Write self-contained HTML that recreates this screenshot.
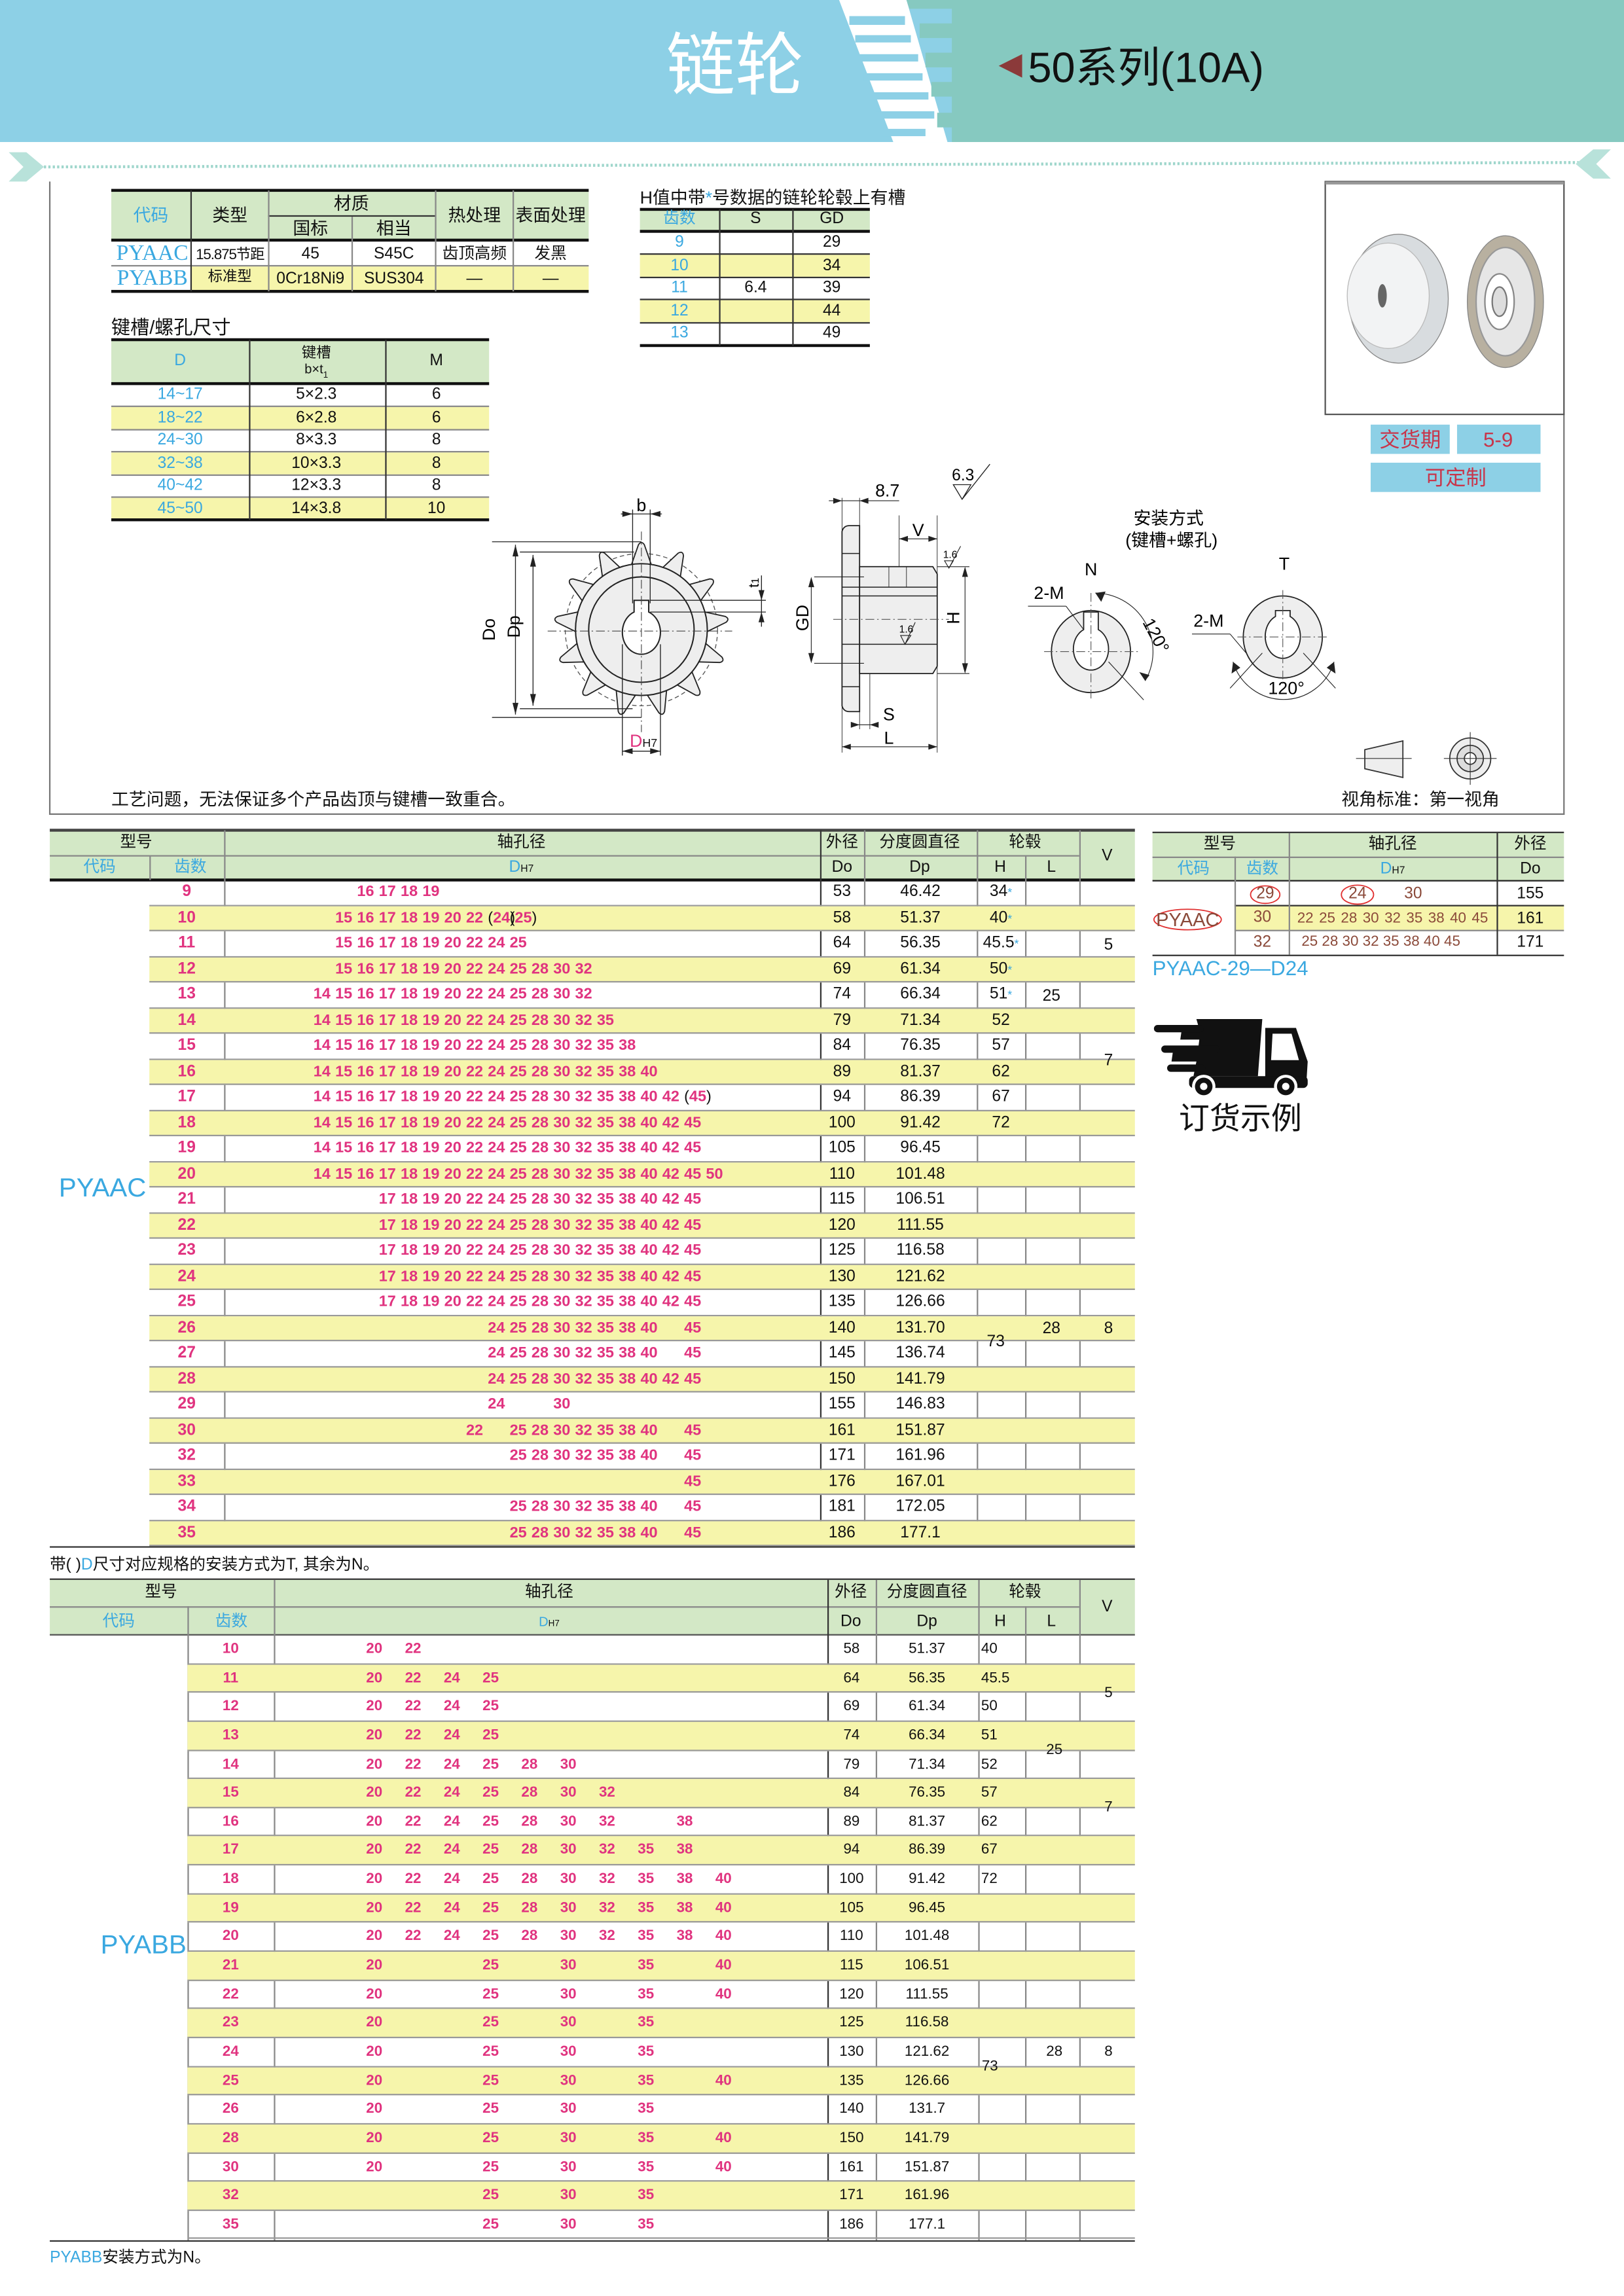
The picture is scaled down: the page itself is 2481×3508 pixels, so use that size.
<!DOCTYPE html>
<html><head><meta charset="utf-8">
<style>
html,body{margin:0;padding:0;width:2481px;height:3508px;overflow:hidden;background:#fff}
#w{position:absolute;left:0;top:0;width:1109px;height:1568px;transform:scale(2.23715);transform-origin:0 0;font-family:"Liberation Sans Narrow","Liberation Sans","Noto Sans CJK SC",sans-serif;font-size:11px;color:#111}
.a{position:absolute}
.c{position:absolute;transform:translate(-50%,-50%);white-space:nowrap;line-height:1}
.bl{color:#3aa8e0}.pk{color:#e0337f}.br{color:#8b4a3a}
.g{background:#d3e8c6}.y{background:#f6f5ab}
.v{position:absolute;width:1px;background:#888}
.h{position:absolute;height:1px;background:#888}
.k{position:absolute;height:2px;background:#111}
.T{position:absolute}
.T .r{position:relative;box-sizing:border-box;border-bottom:1px solid #999}
.T .r:nth-child(even){background:#f6f5ab}
.T s{position:absolute;top:0;text-align:center;text-decoration:none}
.T .n{position:absolute;top:0;color:#e0337f;font-weight:bold;white-space:nowrap}
.T .n b{display:inline-block}
.T .n u{text-decoration:none;color:#111;font-weight:normal}
.T i{font-style:normal;color:#3aa8e0;font-size:8px;vertical-align:top}
#t1{left:102px;top:601px;width:673px}
#t1 .r{height:17.5px;line-height:17.5px}
#t1 .z{left:0;width:51px;color:#e0337f;font-weight:bold}
#t1 .n{left:112px;font-size:10.5px}
#t1 .n b{width:14.9px}
#t1 .do{left:458px;width:30px}#t1 .dp{left:488px;width:77px}#t1 .hh{left:565px;width:33px}
#t2{left:128px;top:1117px;width:647px}
#t2 .r{height:19.65px;line-height:19.65px}
#t2 .z{left:0;width:59px;color:#e0337f;font-weight:bold;font-size:10px}
#t2 .n{left:122px;font-size:10px;font-family:"Liberation Sans",sans-serif}
#t2 .n b{width:26.5px}
#t2 s{font-size:10px;font-family:"Liberation Sans",sans-serif}
#t2 .do{left:437px;width:33px}#t2 .dp{left:470px;width:70px}#t2 .hh{left:540px;width:32px;text-align:left;padding-left:2px}
</style></head><body><div id="w">

<!-- header -->
<svg class="a" style="left:0;top:0" width="1109" height="100" viewBox="0 0 1109 100">
<rect x="0" y="0" width="1109" height="97" fill="#8dd0e6"/>
<polygon points="573,0 619,0 647,97 610,97" fill="#fff"/>
<polygon points="619,0 1109,0 1109,97 650,97 650,87 640,87 640,77 650,77 650,66 636,66 636,56 650,56 650,46 632,46 632,36 650,36 650,26 628,26 628,16 650,16 650,6 621,6" fill="#86c9c0"/>
<g fill="#8dd0e6"><rect x="580" y="11" width="38" height="6"/><rect x="584" y="24" width="38" height="5"/><rect x="587" y="37" width="40" height="5"/><rect x="590" y="50" width="40" height="5"/><rect x="594" y="63" width="40" height="5"/><rect x="598" y="76" width="40" height="5"/><rect x="602" y="88" width="30" height="5"/></g>
<polygon points="698,37 682,45 698,53" fill="#8b3a3a"/>
<text x="502" y="61" fill="#fff" font-size="47" text-anchor="middle" font-family="Noto Sans CJK SC,sans-serif">链轮</text>
<text x="702" y="56" fill="#111" font-size="29" font-family="Liberation Sans Narrow,Liberation Sans,Noto Sans CJK SC,sans-serif">50系列(10A)</text>
</svg>

<!-- dotted line & frame -->
<svg class="a" style="left:0;top:0" width="1109" height="1568" viewBox="0 0 1109 1568">
<line x1="30" y1="114" x2="1078" y2="111" stroke="#9fd6cc" stroke-width="2" stroke-dasharray="1.5 1.5"/>
<polygon points="6,104 18,104 30,114 18,124 6,124 16,114" fill="#b8e2da"/>
<polygon points="1100,102 1088,102 1076,112 1088,122 1100,122 1090,112" fill="#b8e2da"/>
<polyline points="34,124 34,556 1068,556 1068,283" fill="none" stroke="#777" stroke-width="1"/>
<rect x="905" y="124" width="163" height="159" fill="none" stroke="#555" stroke-width="1"/>
<line x1="905" y1="125" x2="1068" y2="125" stroke="#999" stroke-width="2"/>
</svg>

<!-- material table -->
<div class="a g" style="left:76px;top:130px;width:326px;height:34px"></div>
<div class="a y" style="left:130px;top:182px;width:272px;height:17px"></div>
<div class="k" style="left:76px;top:129px;width:326px"></div>
<div class="k" style="left:76px;top:163px;width:326px"></div>
<div class="k" style="left:76px;top:198px;width:326px"></div>
<div class="h" style="left:76px;top:181px;width:326px"></div>
<div class="h" style="left:183px;top:147px;width:114px;background:#333"></div>
<div class="v" style="left:130px;top:130px;height:69px;background:#333"></div>
<div class="v" style="left:183px;top:130px;height:69px"></div>
<div class="v" style="left:240px;top:148px;height:51px"></div>
<div class="v" style="left:297px;top:130px;height:69px"></div>
<div class="v" style="left:350px;top:130px;height:69px"></div>
<div class="c bl" style="left:103px;top:147px;font-size:12px">代码</div>
<div class="c" style="left:157px;top:147px;font-size:12px">类型</div>
<div class="c" style="left:240px;top:139px;font-size:12px">材质</div>
<div class="c" style="left:212px;top:156px;font-size:12px">国标</div>
<div class="c" style="left:269px;top:156px;font-size:12px">相当</div>
<div class="c" style="left:324px;top:147px;font-size:12px">热处理</div>
<div class="c" style="left:376px;top:147px;font-size:12px">表面处理</div>
<div class="c bl" style="left:104px;top:174px;font-size:15px;font-family:'Liberation Serif',serif">PYAAC</div>
<div class="c bl" style="left:104px;top:191px;font-size:15px;font-family:'Liberation Serif',serif">PYABB</div>
<div class="c" style="left:157px;top:175px;font-size:10px;letter-spacing:-.5px">15.875节距</div>
<div class="c" style="left:157px;top:190px;font-size:10px">标准型</div>
<div class="c" style="left:212px;top:174px">45</div>
<div class="c" style="left:269px;top:174px">S45C</div>
<div class="c" style="left:324px;top:174px">齿顶高频</div>
<div class="c" style="left:376px;top:174px">发黑</div>
<div class="c" style="left:212px;top:191px">0Cr18Ni9</div>
<div class="c" style="left:269px;top:191px">SUS304</div>
<div class="c" style="left:324px;top:191px">—</div>
<div class="c" style="left:376px;top:191px">—</div>

<!-- H table -->
<div class="a" style="left:437px;top:126px;font-size:12px;white-space:nowrap">H值中带<span class="bl">*</span>号数据的链轮轮毂上有槽</div>
<div class="a g" style="left:437px;top:143px;width:157px;height:15px"></div>
<div class="a y" style="left:437px;top:173.6px;width:157px;height:15.6px"></div>
<div class="a y" style="left:437px;top:204.8px;width:157px;height:15.6px"></div>
<div class="k" style="left:437px;top:142px;width:157px"></div>
<div class="k" style="left:437px;top:157px;width:157px"></div>
<div class="k" style="left:437px;top:235px;width:157px"></div>
<div class="h" style="left:437px;top:173px;width:157px;background:#333"></div>
<div class="h" style="left:437px;top:189px;width:157px;background:#333"></div>
<div class="h" style="left:437px;top:204px;width:157px;background:#333"></div>
<div class="h" style="left:437px;top:220px;width:157px;background:#333"></div>
<div class="v" style="left:491px;top:143px;height:93px;background:#333"></div>
<div class="v" style="left:541px;top:143px;height:93px;background:#333"></div>
<div class="c bl" style="left:464px;top:150px">齿数</div>
<div class="c" style="left:516px;top:150px">S</div>
<div class="c" style="left:568px;top:150px">GD</div>
<div class="c bl" style="left:464px;top:166px">9</div><div class="c" style="left:568px;top:166px">29</div>
<div class="c bl" style="left:464px;top:182px">10</div><div class="c" style="left:568px;top:182px">34</div>
<div class="c bl" style="left:464px;top:197px">11</div><div class="c" style="left:516px;top:197px">6.4</div><div class="c" style="left:568px;top:197px">39</div>
<div class="c bl" style="left:464px;top:213px">12</div><div class="c" style="left:568px;top:213px">44</div>
<div class="c bl" style="left:464px;top:228px">13</div><div class="c" style="left:568px;top:228px">49</div>

<!-- keyway table -->
<div class="a" style="left:76px;top:213px;font-size:13px">键槽/螺孔尺寸</div>
<div class="a g" style="left:76px;top:232px;width:258px;height:30px"></div>
<div class="k" style="left:76px;top:231px;width:258px"></div>
<div class="k" style="left:76px;top:261px;width:258px"></div>
<div class="k" style="left:76px;top:354px;width:258px"></div>
<div class="a y" style="left:76px;top:278px;width:258px;height:15px"></div>
<div class="a y" style="left:76px;top:309px;width:258px;height:15px"></div>
<div class="a y" style="left:76px;top:340px;width:258px;height:14px"></div>
<div class="h" style="left:76px;top:277px;width:258px"></div>
<div class="h" style="left:76px;top:293px;width:258px"></div>
<div class="h" style="left:76px;top:308px;width:258px"></div>
<div class="h" style="left:76px;top:324px;width:258px"></div>
<div class="h" style="left:76px;top:339px;width:258px"></div>
<div class="v" style="left:170px;top:232px;height:123px;background:#333"></div>
<div class="v" style="left:263px;top:232px;height:123px;background:#333"></div>
<div class="c bl" style="left:123px;top:247px">D</div>
<div class="c" style="left:216px;top:242px;font-size:10px">键槽</div>
<div class="c" style="left:216px;top:254px;font-size:9px">b×t<sub style="font-size:6px">1</sub></div>
<div class="c" style="left:298px;top:247px">M</div>
<div class="c bl" style="left:123px;top:270px">14~17</div><div class="c" style="left:216px;top:270px">5×2.3</div><div class="c" style="left:298px;top:270px">6</div>
<div class="c bl" style="left:123px;top:286px">18~22</div><div class="c" style="left:216px;top:286px">6×2.8</div><div class="c" style="left:298px;top:286px">6</div>
<div class="c bl" style="left:123px;top:301px">24~30</div><div class="c" style="left:216px;top:301px">8×3.3</div><div class="c" style="left:298px;top:301px">8</div>
<div class="c bl" style="left:123px;top:317px">32~38</div><div class="c" style="left:216px;top:317px">10×3.3</div><div class="c" style="left:298px;top:317px">8</div>
<div class="c bl" style="left:123px;top:332px">40~42</div><div class="c" style="left:216px;top:332px">12×3.3</div><div class="c" style="left:298px;top:332px">8</div>
<div class="c bl" style="left:123px;top:348px">45~50</div><div class="c" style="left:216px;top:348px">14×3.8</div><div class="c" style="left:298px;top:348px">10</div>

<!-- delivery boxes -->
<div class="a" style="left:936px;top:290px;width:54px;height:20px;background:#8dd0e6"></div>
<div class="a" style="left:995px;top:290px;width:57px;height:20px;background:#8dd0e6"></div>
<div class="a" style="left:936px;top:316px;width:116px;height:20px;background:#8dd0e6"></div>
<div class="c" style="left:963px;top:300px;font-size:14px;color:#c8354a">交货期</div>
<div class="c" style="left:1023px;top:300px;font-size:14px;color:#c8354a">5-9</div>
<div class="c" style="left:994px;top:326px;font-size:14px;color:#c8354a">可定制</div>

<!-- drawings -->
<svg class="a" style="left:0;top:0" width="1109" height="1568" viewBox="0 0 1109 1568" font-family="Liberation Sans Narrow,Liberation Sans,Noto Sans CJK SC,sans-serif">
<defs><path id="th" d="M429,392 L436,372 Q438,369 440,372 L447,392 Z" fill="#eee" stroke="#222" stroke-width=".8"/></defs>
<!-- photo sprockets -->
<g>
<g fill="#cfd3d6" stroke="#888" stroke-width=".6">
<ellipse cx="955" cy="204" rx="34" ry="44" fill="#d8dcdf"/>
<ellipse cx="1028" cy="206" rx="26" ry="45" fill="#b8b0a0"/>
</g>
<ellipse cx="948" cy="202" rx="28" ry="36" fill="#f2f3f4" stroke="#bbb" stroke-width=".6"/>
<ellipse cx="944" cy="202" rx="3" ry="8" fill="#666"/>
<ellipse cx="1028" cy="206" rx="20" ry="37" fill="#e6e6e6" stroke="#999"/>
<ellipse cx="1024" cy="206" rx="10" ry="19" fill="#fff" stroke="#888"/>
<ellipse cx="1024" cy="206" rx="5" ry="10" fill="#ddd" stroke="#777"/>
</g>
<!-- front view -->
<circle cx="438" cy="430" r="52" fill="none" stroke="#555" stroke-width=".6" stroke-dasharray="3 2"/>
<g>
<use href="#th"/><use href="#th" transform="rotate(27.69 438 430)"/><use href="#th" transform="rotate(55.38 438 430)"/><use href="#th" transform="rotate(83.08 438 430)"/><use href="#th" transform="rotate(110.77 438 430)"/><use href="#th" transform="rotate(138.46 438 430)"/><use href="#th" transform="rotate(166.15 438 430)"/><use href="#th" transform="rotate(193.85 438 430)"/><use href="#th" transform="rotate(221.54 438 430)"/><use href="#th" transform="rotate(249.23 438 430)"/><use href="#th" transform="rotate(276.92 438 430)"/><use href="#th" transform="rotate(304.62 438 430)"/><use href="#th" transform="rotate(332.31 438 430)"/>
</g>
<circle cx="438" cy="430" r="45" fill="#eee" stroke="#222" stroke-width=".9"/>
<circle cx="438" cy="430" r="36" fill="#eee" stroke="#222" stroke-width=".9"/>
<path d="M433,418 L433,410 L443,410 L443,418 A13,15 0 1 1 433,418 Z" fill="#fff" stroke="#222" stroke-width=".9"/>
<g stroke="#444" stroke-width=".5" stroke-dasharray="6 2 1 2"><line x1="374" y1="431" x2="500" y2="431"/><line x1="438" y1="363" x2="438" y2="500"/></g>
<g stroke="#222" stroke-width=".6" fill="none">
<line x1="336" y1="370" x2="438" y2="370"/><line x1="336" y1="490" x2="438" y2="490"/>
<line x1="355" y1="377" x2="433" y2="377"/><line x1="355" y1="484" x2="432" y2="484"/>
<line x1="352" y1="372" x2="352" y2="488"/><line x1="364" y1="379" x2="364" y2="482"/>
<line x1="432" y1="348" x2="432" y2="412"/><line x1="444" y1="348" x2="444" y2="412"/>
<line x1="424" y1="351" x2="452" y2="351"/>
<line x1="444" y1="410" x2="523" y2="410"/><line x1="444" y1="418" x2="523" y2="418"/>
<line x1="520" y1="393" x2="520" y2="428"/>
<line x1="425" y1="440" x2="425" y2="516"/><line x1="451" y1="440" x2="451" y2="516"/>
<line x1="425" y1="513" x2="451" y2="513"/>
</g>
<g fill="#222">
<polygon points="352,372 350,380 354,380"/><polygon points="352,488 350,480 354,480"/>
<polygon points="364,379 362,387 366,387"/><polygon points="364,482 362,474 366,474"/>
<polygon points="432,351 425,349 425,353"/><polygon points="444,351 451,349 451,353"/>
<polygon points="425,513 432,511 432,515"/><polygon points="451,513 444,511 444,515"/>
<polygon points="520,410 518,403 522,403"/><polygon points="520,418 518,425 522,425"/>
</g>
<text x="438" y="349" font-size="12" text-anchor="middle">b</text>
<text transform="translate(338,430) rotate(-90)" font-size="12" text-anchor="middle">Do</text>
<text transform="translate(355,428) rotate(-90)" font-size="12" text-anchor="middle">Dp</text>
<text transform="translate(518,398) rotate(-90)" font-size="10" text-anchor="middle">t<tspan font-size="7">1</tspan></text>
<text x="430" y="510" font-size="12" fill="#e0337f">D<tspan fill="#111" font-size="8">H7</tspan></text>
<!-- side view -->
<g stroke="#222" stroke-width=".8" fill="#eee">
<path d="M575,363 Q576,359 580,359 L587,359 L587,486 L580,486 Q576,486 575,482 Z"/>
<path d="M587,387 L637,387 L640,392 L640,455 L637,460 L587,460 Z"/>
</g>
<g stroke="#222" stroke-width=".7">
<line x1="575" y1="378" x2="587" y2="378"/><line x1="575" y1="469" x2="587" y2="469"/>
<line x1="575" y1="401" x2="640" y2="401"/><line x1="575" y1="407" x2="640" y2="407"/>
<line x1="575" y1="440" x2="640" y2="440"/>
<line x1="607" y1="387" x2="607" y2="401" stroke-width=".4"/><line x1="619" y1="387" x2="619" y2="401" stroke-width=".4"/>
<line x1="556" y1="394" x2="590" y2="394" stroke-width=".5"/><line x1="556" y1="453" x2="590" y2="453" stroke-width=".5"/>
<line x1="554" y1="396" x2="554" y2="451" stroke-width=".5"/>
<line x1="640" y1="387" x2="662" y2="387" stroke-width=".5"/><line x1="640" y1="460" x2="662" y2="460" stroke-width=".5"/>
<line x1="659" y1="389" x2="659" y2="458" stroke-width=".5"/>
<line x1="575" y1="340" x2="575" y2="514" stroke-width=".4"/><line x1="587" y1="340" x2="587" y2="498" stroke-width=".4"/>
<line x1="640" y1="352" x2="640" y2="514" stroke-width=".4"/><line x1="614" y1="352" x2="614" y2="387" stroke-width=".4"/>
<line x1="566" y1="342" x2="614" y2="342" stroke-width=".5"/>
<line x1="614" y1="368" x2="640" y2="368" stroke-width=".5"/>
<line x1="583" y1="495" x2="598" y2="495" stroke-width=".5"/><line x1="594" y1="460" x2="594" y2="498" stroke-width=".4"/>
<line x1="575" y1="510" x2="640" y2="510" stroke-width=".5"/>
</g>
<line x1="569" y1="423" x2="648" y2="423" stroke="#555" stroke-width=".5" stroke-dasharray="6 2 1 2"/>
<g fill="#222">
<polygon points="554,394 552,401 556,401"/><polygon points="554,453 552,446 556,446"/>
<polygon points="659,387 657,394 661,394"/><polygon points="659,460 657,453 661,453"/>
<polygon points="575,342 569,340 569,344"/><polygon points="587,342 593,340 593,344"/>
<polygon points="614,368 620,366 620,370"/><polygon points="640,368 634,366 634,370"/>
<polygon points="587,495 581,493 581,497"/><polygon points="594,495 600,493 600,497"/>
<polygon points="575,510 581,508 581,512"/><polygon points="640,510 634,508 634,512"/>
</g>
<text x="606" y="339" font-size="12" text-anchor="middle">8.7</text>
<text x="627" y="366" font-size="12" text-anchor="middle">V</text>
<text x="607" y="492" font-size="12" text-anchor="middle">S</text>
<text x="607" y="508" font-size="12" text-anchor="middle">L</text>
<text transform="translate(552,422) rotate(-90)" font-size="12" text-anchor="middle">GD</text>
<text transform="translate(655,422) rotate(-90)" font-size="12" text-anchor="middle">H</text>
<text x="650" y="328" font-size="11">6.3</text>
<path d="M651,331 L663,331 L657,341 Z M657,341 L676,317" fill="none" stroke="#222" stroke-width=".6"/>
<text x="644" y="381" font-size="7">1.6</text>
<path d="M645,383 L651,383 L648,388 Z M648,388 L656,373" fill="none" stroke="#222" stroke-width=".5"/>
<text x="614" y="432" font-size="7">1.6</text>
<path d="M615,434 L622,434 L618,440 Z M618,440 L625,425" fill="none" stroke="#222" stroke-width=".5"/>
<!-- mounting -->
<text x="798" y="358" font-size="12" text-anchor="middle">安装方式</text>
<text x="800" y="373" font-size="12" text-anchor="middle">(键槽+螺孔)</text>
<text x="745" y="393" font-size="12" text-anchor="middle">N</text>
<text x="877" y="389" font-size="12" text-anchor="middle">T</text>
<text x="706" y="409" font-size="12">2-M</text>
<text x="815" y="428" font-size="12">2-M</text>
<text transform="translate(780,425) rotate(62)" font-size="12">120°</text>
<text x="866" y="474" font-size="12">120°</text>
<ellipse cx="745" cy="445" rx="27" ry="28" fill="#eee" stroke="#222" stroke-width=".8"/>
<path d="M740,430 L740,418 L750,418 L750,430 A12,14.5 0 1 1 740,430 Z" fill="#fff" stroke="#222" stroke-width=".8"/>
<ellipse cx="876" cy="435" rx="27" ry="28" fill="#eee" stroke="#222" stroke-width=".8"/>
<path d="M871,421 L871,417 L881,417 L881,421 A12,15 0 1 1 871,421 Z" fill="#fff" stroke="#222" stroke-width=".8"/>
<g stroke="#555" stroke-width=".5" stroke-dasharray="6 2 1 2"><line x1="713" y1="445" x2="777" y2="445"/><line x1="745" y1="405" x2="745" y2="478"/><line x1="845" y1="435" x2="908" y2="435"/><line x1="876" y1="403" x2="876" y2="468"/></g>
<g stroke="#222" stroke-width=".5" fill="none">
<path d="M748,405 A40,40 0 0 1 782,465"/>
<line x1="757" y1="452" x2="781" y2="478"/>
<line x1="702" y1="414" x2="728" y2="414"/><line x1="728" y1="414" x2="740" y2="430"/>
<line x1="814" y1="433" x2="840" y2="433"/><line x1="840" y1="433" x2="851" y2="446"/>
<path d="M842,452 A36,36 0 0 0 911,452"/>
<line x1="862" y1="446" x2="840" y2="470"/><line x1="890" y1="446" x2="912" y2="470"/>
</g>
<g fill="#222"><polygon points="748,405 755,404 752,411"/><polygon points="782,465 778,459 785,461"/><polygon points="842,452 841,460 847,456"/><polygon points="911,452 912,460 906,456"/></g>
<!-- viewpoint icon -->
<g stroke="#333" stroke-width=".8" fill="#eee">
<path d="M932,512 L958,506 L958,531 L932,525 Z"/>
<circle cx="1004" cy="518" r="14"/><circle cx="1004" cy="518" r="9" fill="#ddd"/><circle cx="1004" cy="518" r="4" fill="#fff"/>
</g>
<g stroke="#333" stroke-width=".5"><line x1="926" y1="518" x2="964" y2="518"/><line x1="986" y1="518" x2="1022" y2="518"/><line x1="1004" y1="500" x2="1004" y2="536"/></g>
<!-- truck -->
<g fill="#111">
<polygon points="817,696 862,696 859,735 815,735 817,725 800,725 801,718 818,718 819,710 806,710 807,703 819,703"/>
<rect x="788" y="700" width="34" height="5" rx="2.5"/>
<rect x="793" y="714" width="40" height="5" rx="2.5"/>
<rect x="797" y="727" width="26" height="5" rx="2.5"/>
<polygon points="864,702 885,702 893,725 892,741 864,741"/>
<rect x="812" y="735" width="81" height="8" rx="3"/>
</g>
<polygon points="869,706 882,706 887,724 868,724" fill="#fff"/>
<circle cx="822" cy="742" r="8" fill="#fff"/><circle cx="822" cy="742" r="6" fill="#111"/><circle cx="822" cy="742" r="2.5" fill="#fff"/>
<circle cx="878" cy="742" r="8" fill="#fff"/><circle cx="878" cy="742" r="6" fill="#111"/><circle cx="878" cy="742" r="2.5" fill="#fff"/>
<!-- ellipses on right table -->
<g fill="none" stroke="#e03030" stroke-width=".8">
<ellipse cx="864" cy="611" rx="10" ry="6"/><ellipse cx="927" cy="611" rx="11" ry="6.5"/><ellipse cx="811" cy="628" rx="23" ry="7"/>
</g>
</svg>

<div class="a" style="left:76px;top:537px;font-size:12px">工艺问题，无法保证多个产品齿顶与键槽一致重合。</div>
<div class="a" style="left:916px;top:537px;font-size:12px">视角标准：第一视角</div>

<!-- main table 1 header -->
<div class="a g" style="left:34px;top:567px;width:741px;height:34px"></div>
<div class="k" style="left:34px;top:566px;width:741px;height:1.5px;background:#444"></div>
<div class="k" style="left:34px;top:600px;width:741px"></div>
<div class="h" style="left:34px;top:584px;width:703px"></div>
<div class="v" style="left:102px;top:584px;height:17px"></div>
<div class="v" style="left:153px;top:567px;height:489px"></div>
<div class="v" style="left:560px;top:567px;height:489px;background:#333"></div>
<div class="v" style="left:590px;top:567px;height:489px"></div>
<div class="v" style="left:667px;top:567px;height:489px"></div>
<div class="v" style="left:700px;top:584px;height:472px"></div>
<div class="v" style="left:737px;top:567px;height:489px"></div>
<div class="c" style="left:93px;top:576px">型号</div>
<div class="c" style="left:356px;top:576px">轴孔径</div>
<div class="c" style="left:575px;top:576px">外径</div>
<div class="c" style="left:628px;top:576px">分度圆直径</div>
<div class="c" style="left:700px;top:576px">轮毂</div>
<div class="c" style="left:756px;top:585px">V</div>
<div class="c bl" style="left:68px;top:593px">代码</div>
<div class="c bl" style="left:130px;top:593px">齿数</div>
<div class="c" style="left:356px;top:593px"><span class="bl">D</span><span style="font-size:7px">H7</span></div>
<div class="c" style="left:575px;top:593px">Do</div>
<div class="c" style="left:628px;top:593px">Dp</div>
<div class="c" style="left:683px;top:593px">H</div>
<div class="c" style="left:718px;top:593px">L</div>

<div class="T" id="t1">
<div class="r"><s class="z">9</s><span class="n"><b></b><b></b><b>16</b><b>17</b><b>18</b><b>19</b></span><s class="do">53</s><s class="dp">46.42</s><s class="hh">34<i>*</i></s></div>
<div class="r"><s class="z">10</s><span class="n"><b></b><b>15</b><b>16</b><b>17</b><b>18</b><b>19</b><b>20</b><b>22</b><b><u>(</u>24<u>)</u></b><b><u>(</u>25<u>)</u></b></span><s class="do">58</s><s class="dp">51.37</s><s class="hh">40<i>*</i></s></div>
<div class="r"><s class="z">11</s><span class="n"><b></b><b>15</b><b>16</b><b>17</b><b>18</b><b>19</b><b>20</b><b>22</b><b>24</b><b>25</b></span><s class="do">64</s><s class="dp">56.35</s><s class="hh">45.5<i>*</i></s></div>
<div class="r"><s class="z">12</s><span class="n"><b></b><b>15</b><b>16</b><b>17</b><b>18</b><b>19</b><b>20</b><b>22</b><b>24</b><b>25</b><b>28</b><b>30</b><b>32</b></span><s class="do">69</s><s class="dp">61.34</s><s class="hh">50<i>*</i></s></div>
<div class="r"><s class="z">13</s><span class="n"><b>14</b><b>15</b><b>16</b><b>17</b><b>18</b><b>19</b><b>20</b><b>22</b><b>24</b><b>25</b><b>28</b><b>30</b><b>32</b></span><s class="do">74</s><s class="dp">66.34</s><s class="hh">51<i>*</i></s></div>
<div class="r"><s class="z">14</s><span class="n"><b>14</b><b>15</b><b>16</b><b>17</b><b>18</b><b>19</b><b>20</b><b>22</b><b>24</b><b>25</b><b>28</b><b>30</b><b>32</b><b>35</b></span><s class="do">79</s><s class="dp">71.34</s><s class="hh">52</s></div>
<div class="r"><s class="z">15</s><span class="n"><b>14</b><b>15</b><b>16</b><b>17</b><b>18</b><b>19</b><b>20</b><b>22</b><b>24</b><b>25</b><b>28</b><b>30</b><b>32</b><b>35</b><b>38</b></span><s class="do">84</s><s class="dp">76.35</s><s class="hh">57</s></div>
<div class="r"><s class="z">16</s><span class="n"><b>14</b><b>15</b><b>16</b><b>17</b><b>18</b><b>19</b><b>20</b><b>22</b><b>24</b><b>25</b><b>28</b><b>30</b><b>32</b><b>35</b><b>38</b><b>40</b></span><s class="do">89</s><s class="dp">81.37</s><s class="hh">62</s></div>
<div class="r"><s class="z">17</s><span class="n"><b>14</b><b>15</b><b>16</b><b>17</b><b>18</b><b>19</b><b>20</b><b>22</b><b>24</b><b>25</b><b>28</b><b>30</b><b>32</b><b>35</b><b>38</b><b>40</b><b>42</b><b><u>(</u>45<u>)</u></b></span><s class="do">94</s><s class="dp">86.39</s><s class="hh">67</s></div>
<div class="r"><s class="z">18</s><span class="n"><b>14</b><b>15</b><b>16</b><b>17</b><b>18</b><b>19</b><b>20</b><b>22</b><b>24</b><b>25</b><b>28</b><b>30</b><b>32</b><b>35</b><b>38</b><b>40</b><b>42</b><b>45</b></span><s class="do">100</s><s class="dp">91.42</s><s class="hh">72</s></div>
<div class="r"><s class="z">19</s><span class="n"><b>14</b><b>15</b><b>16</b><b>17</b><b>18</b><b>19</b><b>20</b><b>22</b><b>24</b><b>25</b><b>28</b><b>30</b><b>32</b><b>35</b><b>38</b><b>40</b><b>42</b><b>45</b></span><s class="do">105</s><s class="dp">96.45</s></div>
<div class="r"><s class="z">20</s><span class="n"><b>14</b><b>15</b><b>16</b><b>17</b><b>18</b><b>19</b><b>20</b><b>22</b><b>24</b><b>25</b><b>28</b><b>30</b><b>32</b><b>35</b><b>38</b><b>40</b><b>42</b><b>45</b><b>50</b></span><s class="do">110</s><s class="dp">101.48</s></div>
<div class="r"><s class="z">21</s><span class="n"><b></b><b></b><b></b><b>17</b><b>18</b><b>19</b><b>20</b><b>22</b><b>24</b><b>25</b><b>28</b><b>30</b><b>32</b><b>35</b><b>38</b><b>40</b><b>42</b><b>45</b></span><s class="do">115</s><s class="dp">106.51</s></div>
<div class="r"><s class="z">22</s><span class="n"><b></b><b></b><b></b><b>17</b><b>18</b><b>19</b><b>20</b><b>22</b><b>24</b><b>25</b><b>28</b><b>30</b><b>32</b><b>35</b><b>38</b><b>40</b><b>42</b><b>45</b></span><s class="do">120</s><s class="dp">111.55</s></div>
<div class="r"><s class="z">23</s><span class="n"><b></b><b></b><b></b><b>17</b><b>18</b><b>19</b><b>20</b><b>22</b><b>24</b><b>25</b><b>28</b><b>30</b><b>32</b><b>35</b><b>38</b><b>40</b><b>42</b><b>45</b></span><s class="do">125</s><s class="dp">116.58</s></div>
<div class="r"><s class="z">24</s><span class="n"><b></b><b></b><b></b><b>17</b><b>18</b><b>19</b><b>20</b><b>22</b><b>24</b><b>25</b><b>28</b><b>30</b><b>32</b><b>35</b><b>38</b><b>40</b><b>42</b><b>45</b></span><s class="do">130</s><s class="dp">121.62</s></div>
<div class="r"><s class="z">25</s><span class="n"><b></b><b></b><b></b><b>17</b><b>18</b><b>19</b><b>20</b><b>22</b><b>24</b><b>25</b><b>28</b><b>30</b><b>32</b><b>35</b><b>38</b><b>40</b><b>42</b><b>45</b></span><s class="do">135</s><s class="dp">126.66</s></div>
<div class="r"><s class="z">26</s><span class="n"><b></b><b></b><b></b><b></b><b></b><b></b><b></b><b></b><b>24</b><b>25</b><b>28</b><b>30</b><b>32</b><b>35</b><b>38</b><b>40</b><b></b><b>45</b></span><s class="do">140</s><s class="dp">131.70</s></div>
<div class="r"><s class="z">27</s><span class="n"><b></b><b></b><b></b><b></b><b></b><b></b><b></b><b></b><b>24</b><b>25</b><b>28</b><b>30</b><b>32</b><b>35</b><b>38</b><b>40</b><b></b><b>45</b></span><s class="do">145</s><s class="dp">136.74</s></div>
<div class="r"><s class="z">28</s><span class="n"><b></b><b></b><b></b><b></b><b></b><b></b><b></b><b></b><b>24</b><b>25</b><b>28</b><b>30</b><b>32</b><b>35</b><b>38</b><b>40</b><b>42</b><b>45</b></span><s class="do">150</s><s class="dp">141.79</s></div>
<div class="r"><s class="z">29</s><span class="n"><b></b><b></b><b></b><b></b><b></b><b></b><b></b><b></b><b>24</b><b></b><b></b><b>30</b></span><s class="do">155</s><s class="dp">146.83</s></div>
<div class="r"><s class="z">30</s><span class="n"><b></b><b></b><b></b><b></b><b></b><b></b><b></b><b>22</b><b></b><b>25</b><b>28</b><b>30</b><b>32</b><b>35</b><b>38</b><b>40</b><b></b><b>45</b></span><s class="do">161</s><s class="dp">151.87</s></div>
<div class="r"><s class="z">32</s><span class="n"><b></b><b></b><b></b><b></b><b></b><b></b><b></b><b></b><b></b><b>25</b><b>28</b><b>30</b><b>32</b><b>35</b><b>38</b><b>40</b><b></b><b>45</b></span><s class="do">171</s><s class="dp">161.96</s></div>
<div class="r"><s class="z">33</s><span class="n"><b></b><b></b><b></b><b></b><b></b><b></b><b></b><b></b><b></b><b></b><b></b><b></b><b></b><b></b><b></b><b></b><b></b><b>45</b></span><s class="do">176</s><s class="dp">167.01</s></div>
<div class="r"><s class="z">34</s><span class="n"><b></b><b></b><b></b><b></b><b></b><b></b><b></b><b></b><b></b><b>25</b><b>28</b><b>30</b><b>32</b><b>35</b><b>38</b><b>40</b><b></b><b>45</b></span><s class="do">181</s><s class="dp">172.05</s></div>
<div class="r"><s class="z">35</s><span class="n"><b></b><b></b><b></b><b></b><b></b><b></b><b></b><b></b><b></b><b>25</b><b>28</b><b>30</b><b>32</b><b>35</b><b>38</b><b>40</b><b></b><b>45</b></span><s class="do">186</s><s class="dp">177.1</s></div>
</div>
<div class="h" style="left:34px;top:1056px;width:741px;background:#333"></div>
<div class="c bl" style="left:70px;top:811px;font-size:18px">PYAAC</div>
<div class="c" style="left:680px;top:917px">73</div>
<div class="c" style="left:718px;top:681px">25</div>
<div class="c" style="left:718px;top:908px">28</div>
<div class="c" style="left:757px;top:646px">5</div>
<div class="c" style="left:757px;top:725px">7</div>
<div class="c" style="left:757px;top:908px">8</div>
<div class="a" style="left:34px;top:1060px;font-size:11px">带( )<span class="bl">D</span>尺寸对应规格的安装方式为T, 其余为N。</div>

<!-- right small table -->
<div class="a g" style="left:787px;top:569px;width:281px;height:32px"></div>
<div class="a y" style="left:843px;top:618px;width:225px;height:17px"></div>
<div class="h" style="left:787px;top:568px;width:281px;background:#333"></div>
<div class="h" style="left:787px;top:585px;width:281px"></div>
<div class="h" style="left:787px;top:601px;width:281px;background:#222"></div>
<div class="h" style="left:843px;top:618px;width:225px;background:#333"></div>
<div class="h" style="left:843px;top:635px;width:225px"></div>
<div class="h" style="left:787px;top:652px;width:281px;background:#333"></div>
<div class="v" style="left:843px;top:585px;height:67px"></div>
<div class="v" style="left:880px;top:569px;height:83px"></div>
<div class="v" style="left:1022px;top:569px;height:83px;background:#333"></div>
<div class="c" style="left:833px;top:577px">型号</div>
<div class="c" style="left:951px;top:577px">轴孔径</div>
<div class="c" style="left:1045px;top:577px">外径</div>
<div class="c bl" style="left:815px;top:594px">代码</div>
<div class="c bl" style="left:862px;top:594px">齿数</div>
<div class="c" style="left:951px;top:594px"><span class="bl">D</span><span style="font-size:7px">H7</span></div>
<div class="c" style="left:1045px;top:594px">Do</div>
<div class="c br" style="left:811px;top:628px;font-size:13px">PYAAC</div>
<div class="c br" style="left:864px;top:611px">29</div>
<div class="c br" style="left:927px;top:611px">24</div>
<div class="c br" style="left:965px;top:611px">30</div>
<div class="c br" style="left:862px;top:627px">30</div>
<div class="c br" style="left:951px;top:628px;font-size:10px;word-spacing:1px">22 25 28 30 32 35 38 40 45</div>
<div class="c br" style="left:862px;top:644px">32</div>
<div class="c br" style="left:943px;top:644px;font-size:10px">25 28 30 32 35 38 40 45</div>
<div class="c" style="left:1045px;top:611px">155</div>
<div class="c" style="left:1045px;top:628px">161</div>
<div class="c" style="left:1045px;top:644px">171</div>
<div class="a bl" style="left:787px;top:653px;font-size:14px">PYAAC-29—D24</div>
<div class="a" style="left:805px;top:751px;font-size:21px;font-family:'Noto Sans CJK SC',sans-serif;line-height:1.2">订货示例</div>

<!-- table 2 header -->
<div class="a g" style="left:34px;top:1079px;width:741px;height:38px"></div>
<div class="h" style="left:34px;top:1078px;width:741px;background:#333"></div>
<div class="h" style="left:34px;top:1097px;width:703px"></div>
<div class="k" style="left:34px;top:1116px;width:741px;height:1px;background:#555"></div>
<div class="v" style="left:128px;top:1097px;height:433px"></div>
<div class="v" style="left:187px;top:1079px;height:451px"></div>
<div class="v" style="left:565px;top:1079px;height:451px;background:#333"></div>
<div class="v" style="left:598px;top:1079px;height:451px"></div>
<div class="v" style="left:668px;top:1079px;height:451px"></div>
<div class="v" style="left:700px;top:1097px;height:433px"></div>
<div class="v" style="left:737px;top:1079px;height:451px"></div>
<div class="c" style="left:110px;top:1088px">型号</div>
<div class="c" style="left:375px;top:1088px">轴孔径</div>
<div class="c" style="left:581px;top:1088px">外径</div>
<div class="c" style="left:633px;top:1088px">分度圆直径</div>
<div class="c" style="left:700px;top:1088px">轮毂</div>
<div class="c" style="left:756px;top:1098px">V</div>
<div class="c bl" style="left:81px;top:1108px">代码</div>
<div class="c bl" style="left:158px;top:1108px">齿数</div>
<div class="c" style="left:375px;top:1108px;font-size:9px"><span class="bl">D</span><span style="font-size:6px">H7</span></div>
<div class="c" style="left:581px;top:1108px">Do</div>
<div class="c" style="left:633px;top:1108px">Dp</div>
<div class="c" style="left:683px;top:1108px">H</div>
<div class="c" style="left:718px;top:1108px">L</div>

<div class="T" id="t2">
<div class="r"><s class="z">10</s><span class="n"><b>20</b><b>22</b></span><s class="do">58</s><s class="dp">51.37</s><s class="hh">40</s></div>
<div class="r"><s class="z">11</s><span class="n"><b>20</b><b>22</b><b>24</b><b>25</b></span><s class="do">64</s><s class="dp">56.35</s><s class="hh">45.5</s></div>
<div class="r"><s class="z">12</s><span class="n"><b>20</b><b>22</b><b>24</b><b>25</b></span><s class="do">69</s><s class="dp">61.34</s><s class="hh">50</s></div>
<div class="r"><s class="z">13</s><span class="n"><b>20</b><b>22</b><b>24</b><b>25</b></span><s class="do">74</s><s class="dp">66.34</s><s class="hh">51</s></div>
<div class="r"><s class="z">14</s><span class="n"><b>20</b><b>22</b><b>24</b><b>25</b><b>28</b><b>30</b></span><s class="do">79</s><s class="dp">71.34</s><s class="hh">52</s></div>
<div class="r"><s class="z">15</s><span class="n"><b>20</b><b>22</b><b>24</b><b>25</b><b>28</b><b>30</b><b>32</b></span><s class="do">84</s><s class="dp">76.35</s><s class="hh">57</s></div>
<div class="r"><s class="z">16</s><span class="n"><b>20</b><b>22</b><b>24</b><b>25</b><b>28</b><b>30</b><b>32</b><b></b><b>38</b></span><s class="do">89</s><s class="dp">81.37</s><s class="hh">62</s></div>
<div class="r"><s class="z">17</s><span class="n"><b>20</b><b>22</b><b>24</b><b>25</b><b>28</b><b>30</b><b>32</b><b>35</b><b>38</b></span><s class="do">94</s><s class="dp">86.39</s><s class="hh">67</s></div>
<div class="r"><s class="z">18</s><span class="n"><b>20</b><b>22</b><b>24</b><b>25</b><b>28</b><b>30</b><b>32</b><b>35</b><b>38</b><b>40</b></span><s class="do">100</s><s class="dp">91.42</s><s class="hh">72</s></div>
<div class="r"><s class="z">19</s><span class="n"><b>20</b><b>22</b><b>24</b><b>25</b><b>28</b><b>30</b><b>32</b><b>35</b><b>38</b><b>40</b></span><s class="do">105</s><s class="dp">96.45</s></div>
<div class="r"><s class="z">20</s><span class="n"><b>20</b><b>22</b><b>24</b><b>25</b><b>28</b><b>30</b><b>32</b><b>35</b><b>38</b><b>40</b></span><s class="do">110</s><s class="dp">101.48</s></div>
<div class="r"><s class="z">21</s><span class="n"><b>20</b><b></b><b></b><b>25</b><b></b><b>30</b><b></b><b>35</b><b></b><b>40</b></span><s class="do">115</s><s class="dp">106.51</s></div>
<div class="r"><s class="z">22</s><span class="n"><b>20</b><b></b><b></b><b>25</b><b></b><b>30</b><b></b><b>35</b><b></b><b>40</b></span><s class="do">120</s><s class="dp">111.55</s></div>
<div class="r"><s class="z">23</s><span class="n"><b>20</b><b></b><b></b><b>25</b><b></b><b>30</b><b></b><b>35</b></span><s class="do">125</s><s class="dp">116.58</s></div>
<div class="r"><s class="z">24</s><span class="n"><b>20</b><b></b><b></b><b>25</b><b></b><b>30</b><b></b><b>35</b></span><s class="do">130</s><s class="dp">121.62</s></div>
<div class="r"><s class="z">25</s><span class="n"><b>20</b><b></b><b></b><b>25</b><b></b><b>30</b><b></b><b>35</b><b></b><b>40</b></span><s class="do">135</s><s class="dp">126.66</s></div>
<div class="r"><s class="z">26</s><span class="n"><b>20</b><b></b><b></b><b>25</b><b></b><b>30</b><b></b><b>35</b></span><s class="do">140</s><s class="dp">131.7</s></div>
<div class="r"><s class="z">28</s><span class="n"><b>20</b><b></b><b></b><b>25</b><b></b><b>30</b><b></b><b>35</b><b></b><b>40</b></span><s class="do">150</s><s class="dp">141.79</s></div>
<div class="r"><s class="z">30</s><span class="n"><b>20</b><b></b><b></b><b>25</b><b></b><b>30</b><b></b><b>35</b><b></b><b>40</b></span><s class="do">161</s><s class="dp">151.87</s></div>
<div class="r"><s class="z">32</s><span class="n"><b></b><b></b><b></b><b>25</b><b></b><b>30</b><b></b><b>35</b></span><s class="do">171</s><s class="dp">161.96</s></div>
<div class="r"><s class="z">35</s><span class="n"><b></b><b></b><b></b><b>25</b><b></b><b>30</b><b></b><b>35</b></span><s class="do">186</s><s class="dp">177.1</s></div>
</div>
<div class="h" style="left:34px;top:1530px;width:741px;background:#333"></div>
<div class="c bl" style="left:98px;top:1328px;font-size:18px">PYABB</div>
<div class="c" style="left:676px;top:1412px;font-size:10px">73</div>
<div class="c" style="left:720px;top:1196px;font-size:10px">25</div>
<div class="c" style="left:720px;top:1402px;font-size:10px">28</div>
<div class="c" style="left:757px;top:1157px;font-size:10px">5</div>
<div class="c" style="left:757px;top:1235px;font-size:10px">7</div>
<div class="c" style="left:757px;top:1402px;font-size:10px">8</div>
<div class="a" style="left:34px;top:1533px;font-size:11px"><span class="bl">PYABB</span>安装方式为N。</div>

</div></body></html>
